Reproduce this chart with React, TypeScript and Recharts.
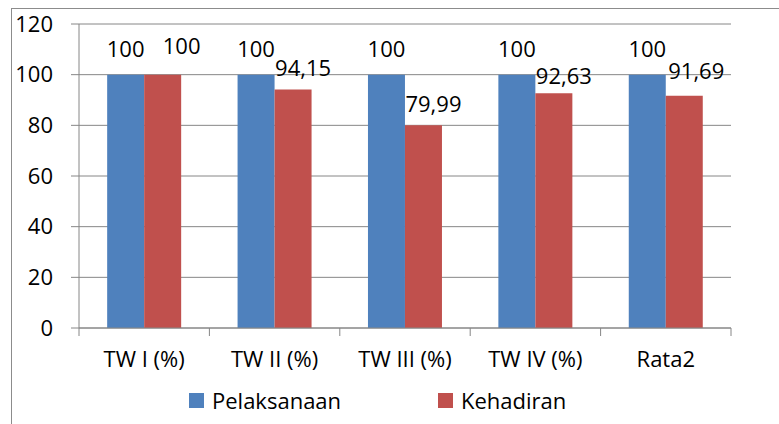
import React from "react";
import {
  BarChart,
  Bar,
  XAxis,
  YAxis,
  CartesianGrid,
  Legend,
  LabelList,
} from "recharts";

const categories = ["TW I (%)", "TW II (%)", "TW III (%)", "TW IV (%)", "Rata2"];
const pelaksanaan = [100, 100, 100, 100, 100];
const kehadiran = [100, 94.15, 79.99, 92.63, 91.69];
const yTicks = [0, 20, 40, 60, 80, 100, 120];

const data = categories.map((name, i) => ({
  name,
  Pelaksanaan: pelaksanaan[i],
  Kehadiran: kehadiran[i],
}));

const BLUE = "#4F81BD";
const RED = "#C0504D";
const GRID = "#868686";
const FONT = "'Open Sans', sans-serif";
const FS = 22;

const W = 779;
const H = 424;
const Y_AXIS_W = 79;
const MARGIN = { top: 24, right: 48, left: 0, bottom: 0 };
const BAND = (W - Y_AXIS_W - MARGIN.right) / categories.length;

// red labels were nudged by hand in the original
const redNudge = [
  [19, -21],
  [10, -13],
  [10, -13],
  [10, -9],
  [12, -17],
];

const fmt = (v: number) => String(v).replace(".", ",");

function XTick(props: any) {
  const { x, y, payload, index } = props;
  const left = x - BAND / 2;
  const right = x + BAND / 2;
  return (
    <g>
      <line x1={left} x2={left} y1={y} y2={y + 8} stroke={GRID} />
      {index === categories.length - 1 && (
        <line x1={right} x2={right} y1={y} y2={y + 8} stroke={GRID} />
      )}
      <text
        x={x}
        y={y + 30}
        textAnchor="middle"
        dominantBaseline="central"
        fontFamily={FONT}
        fontSize={FS}
        fill="#000"
      >
        {payload.value}
      </text>
    </g>
  );
}

function BlueLabel(p: any) {
  return (
    <text
      x={p.x + p.width / 2}
      y={p.y - 18}
      textAnchor="middle"
      fontFamily={FONT}
      fontSize={FS}
      fill="#000"
    >
      {fmt(p.value)}
    </text>
  );
}

function RedLabel(p: any) {
  const [dx, dy] = redNudge[p.index] || [10, -13];
  return (
    <text
      x={p.x + p.width / 2 + dx}
      y={p.y + dy}
      textAnchor="middle"
      fontFamily={FONT}
      fontSize={FS}
      fill="#000"
    >
      {fmt(p.value)}
    </text>
  );
}

function LegendBox() {
  const item = (left: number, color: string, label: string) => (
    <div
      style={{
        position: "absolute",
        left,
        top: 5,
        display: "flex",
        alignItems: "center",
        height: 22,
      }}
    >
      <span
        style={{ width: 15, height: 15, background: color, marginRight: 8 }}
      />
      <span style={{ fontFamily: FONT, fontSize: FS, color: "#000" }}>
        {label}
      </span>
    </div>
  );
  return (
    <div style={{ position: "relative", height: 40, width: "100%" }}>
      {item(189, BLUE, "Pelaksanaan")}
      {item(438, RED, "Kehadiran")}
    </div>
  );
}

export default function App() {
  return (
    <div
      style={{
        position: "relative",
        width: W,
        height: H,
        overflow: "hidden",
        background: "#fff",
      }}
    >
      <style>{`body{margin:0}`}</style>
      <div
        style={{
          position: "absolute",
          left: 11,
          top: 8,
          width: 820,
          height: 480,
          border: "1px solid #8c8c8c",
        }}
      />
      <div style={{ position: "absolute", left: 0, top: 0 }}>
        <BarChart
          width={W}
          height={H}
          data={data}
          margin={MARGIN}
          barCategoryGap="21.6%"
          barGap={0}
        >
          <CartesianGrid vertical={false} stroke={GRID} />
          <XAxis
            dataKey="name"
            interval={0}
            height={56}
            tickLine={false}
            tickSize={0}
            tickMargin={0}
            axisLine={{ stroke: GRID }}
            tick={<XTick />}
          />
          <YAxis
            width={Y_AXIS_W}
            domain={[0, 120]}
            ticks={yTicks}
            interval={0}
            tickSize={8}
            tickMargin={18}
            axisLine={{ stroke: GRID }}
            tickLine={{ stroke: GRID }}
            tick={{ fontFamily: FONT, fontSize: FS, fill: "#000" }}
          />
          <Legend verticalAlign="bottom" content={<LegendBox />} />
          <Bar dataKey="Pelaksanaan" fill={BLUE} isAnimationActive={false}>
            <LabelList dataKey="Pelaksanaan" content={<BlueLabel />} />
          </Bar>
          <Bar dataKey="Kehadiran" fill={RED} isAnimationActive={false}>
            <LabelList dataKey="Kehadiran" content={<RedLabel />} />
          </Bar>
        </BarChart>
      </div>
    </div>
  );
}
